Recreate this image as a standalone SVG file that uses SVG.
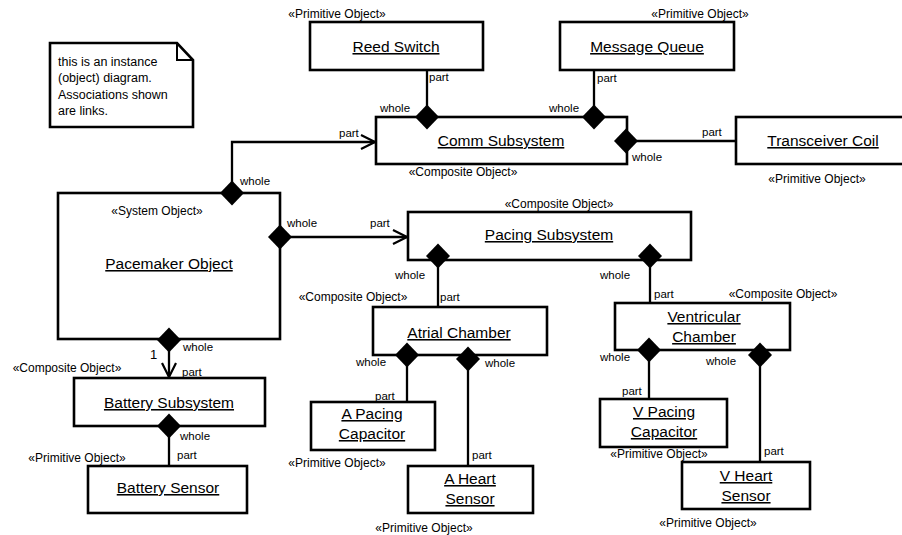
<svg xmlns="http://www.w3.org/2000/svg" width="902" height="535" viewBox="0 0 902 535">
<style>
text{font-family:"Liberation Sans",Arial,Helvetica,sans-serif;fill:#000}
.box{fill:#fff;stroke:#000;stroke-width:2.6}
.name{font-size:15.5px;text-decoration:underline;text-anchor:middle}
.st{font-size:12px;text-anchor:middle}
.role{font-size:11.5px}
.note{font-size:12.5px}
.ln{fill:none;stroke:#000;stroke-width:2.3}
.dia{fill:#000;stroke:none}
</style>
<defs>
<path id="d" class="dia" d="M0,-12.5 L12,0 L0,12.5 L-12,0 Z"/>
<marker id="arr" viewBox="0 0 16 16" refX="15" refY="8" markerWidth="16" markerHeight="16" markerUnits="userSpaceOnUse" orient="auto">
<path d="M1,1 L15,8 L1,15" fill="none" stroke="#000" stroke-width="2.2"/>
</marker>
</defs>
<rect width="902" height="535" fill="#fff"/>

<g id="note">
<path d="M50,43 L177,43 L193,60 L193,127 L50,127 Z" fill="#fff" stroke="#000" stroke-width="2.6"/>
<path d="M177,43 L177,60 L193,60" fill="none" stroke="#000" stroke-width="2"/>
<text class="note" x="58" y="65.5">this is an instance</text>
<text class="note" x="58" y="82">(object) diagram.</text>
<text class="note" x="58" y="98.5">Associations shown</text>
<text class="note" x="58" y="115">are links.</text>
</g>

<g id="connectors">
<line class="ln" x1="427" y1="70" x2="427" y2="117"/>
<line class="ln" x1="594" y1="70" x2="594" y2="117"/>
<line class="ln" x1="626" y1="141" x2="736" y2="141"/>
<polyline class="ln" points="232,193 232,142 375,142" marker-end="url(#arr)"/>
<line class="ln" x1="280" y1="237" x2="407" y2="237" marker-end="url(#arr)"/>
<line class="ln" x1="438" y1="256" x2="438" y2="307"/>
<line class="ln" x1="650" y1="256" x2="650" y2="304"/>
<line class="ln" x1="407" y1="355" x2="407" y2="402"/>
<line class="ln" x1="468" y1="359" x2="468" y2="466"/>
<line class="ln" x1="649" y1="350" x2="649" y2="399"/>
<line class="ln" x1="760" y1="355" x2="760" y2="462"/>
<line class="ln" x1="169" y1="340" x2="169" y2="377" marker-end="url(#arr)"/>
<line class="ln" x1="169" y1="426" x2="169" y2="466"/>
</g>

<g id="reed-switch">
<rect class="box" x="310" y="22" width="173" height="48"/>
<text class="name" x="396" y="52">Reed Switch</text>
<text class="st" x="337" y="18">«Primitive Object»</text>
</g>

<g id="message-queue">
<rect class="box" x="560" y="22" width="174" height="48"/>
<text class="name" x="647" y="52">Message Queue</text>
<text class="st" x="700" y="18">«Primitive Object»</text>
</g>

<g id="comm-subsystem">
<rect class="box" x="376" y="117" width="251" height="47"/>
<text class="name" x="501" y="146">Comm Subsystem</text>
<text class="st" x="463" y="176">«Composite Object»</text>
</g>

<g id="transceiver-coil">
<rect class="box" x="736" y="117" width="170" height="47"/>
<text class="name" x="823" y="146">Transceiver Coil</text>
<text class="st" x="817" y="183">«Primitive Object»</text>
</g>

<g id="pacemaker-object">
<rect class="box" x="58" y="193" width="222" height="146"/>
<text class="name" x="169" y="269">Pacemaker Object</text>
<text class="st" x="157" y="215">«System Object»</text>
</g>

<g id="pacing-subsystem">
<rect class="box" x="408" y="212" width="283" height="48"/>
<text class="name" x="549" y="240">Pacing Subsystem</text>
<text class="st" x="559" y="208">«Composite Object»</text>
</g>

<g id="atrial-chamber">
<rect class="box" x="373" y="307" width="174" height="48"/>
<text class="name" x="459" y="338">Atrial Chamber</text>
<text class="st" x="353" y="301">«Composite Object»</text>
</g>

<g id="ventricular-chamber">
<rect class="box" x="615" y="303" width="175" height="47"/>
<text class="name" x="704" y="322">Ventricular</text>
<text class="name" x="704" y="342">Chamber</text>
<text class="st" x="783" y="298">«Composite Object»</text>
</g>

<g id="a-pacing-capacitor">
<rect class="box" x="311" y="402" width="124" height="48"/>
<text class="name" x="372" y="419">A Pacing</text>
<text class="name" x="372" y="439">Capacitor</text>
<text class="st" x="337" y="467">«Primitive Object»</text>
</g>

<g id="a-heart-sensor">
<rect class="box" x="408" y="466" width="125" height="47"/>
<text class="name" x="470" y="484">A Heart</text>
<text class="name" x="470" y="504">Sensor</text>
<text class="st" x="424" y="532">«Primitive Object»</text>
</g>

<g id="v-pacing-capacitor">
<rect class="box" x="600" y="399" width="127" height="48"/>
<text class="name" x="664" y="417">V Pacing</text>
<text class="name" x="664" y="437">Capacitor</text>
<text class="st" x="659" y="458">«Primitive Object»</text>
</g>

<g id="v-heart-sensor">
<rect class="box" x="682" y="462" width="128" height="47"/>
<text class="name" x="746" y="481">V Heart</text>
<text class="name" x="746" y="501">Sensor</text>
<text class="st" x="708" y="527">«Primitive Object»</text>
</g>

<g id="battery-subsystem">
<rect class="box" x="74" y="378" width="191" height="48"/>
<text class="name" x="169" y="408">Battery Subsystem</text>
<text class="st" x="67" y="372">«Composite Object»</text>
</g>

<g id="battery-sensor">
<rect class="box" x="88" y="466" width="159" height="47"/>
<text class="name" x="168" y="493">Battery Sensor</text>
<text class="st" x="77" y="462">«Primitive Object»</text>
</g>

<g id="ends">
<use href="#d" x="427" y="117"/>
<use href="#d" x="594" y="117"/>
<use href="#d" x="626" y="141"/>
<use href="#d" x="232" y="193"/>
<use href="#d" x="280" y="237"/>
<use href="#d" x="438" y="256"/>
<use href="#d" x="650" y="256"/>
<use href="#d" x="407" y="355"/>
<use href="#d" x="468" y="359"/>
<use href="#d" x="649" y="350"/>
<use href="#d" x="760" y="355"/>
<use href="#d" x="169" y="340"/>
<use href="#d" x="169" y="426"/>
</g>

<g id="roles">
<text class="role" x="429" y="81">part</text>
<text class="role" x="380" y="112">whole</text>
<text class="role" x="597" y="82">part</text>
<text class="role" x="549" y="112">whole</text>
<text class="role" x="702" y="136">part</text>
<text class="role" x="632" y="161">whole</text>
<text class="role" x="240" y="185">whole</text>
<text class="role" x="339" y="137">part</text>
<text class="role" x="287" y="227">whole</text>
<text class="role" x="370" y="227">part</text>
<text class="role" x="395" y="279">whole</text>
<text class="role" x="440" y="301">part</text>
<text class="role" x="600" y="279">whole</text>
<text class="role" x="654" y="298">part</text>
<text class="role" x="356" y="366">whole</text>
<text class="role" x="375" y="400">part</text>
<text class="role" x="485" y="367">whole</text>
<text class="role" x="472" y="459">part</text>
<text class="role" x="600" y="361">whole</text>
<text class="role" x="622" y="395">part</text>
<text class="role" x="706" y="365">whole</text>
<text class="role" x="764" y="455">part</text>
<text class="role" x="150" y="359" style="font-size:13px">1</text>
<text class="role" x="183" y="351">whole</text>
<text class="role" x="182" y="376">part</text>
<text class="role" x="180" y="440">whole</text>
<text class="role" x="177" y="459">part</text>
</g>
</svg>
